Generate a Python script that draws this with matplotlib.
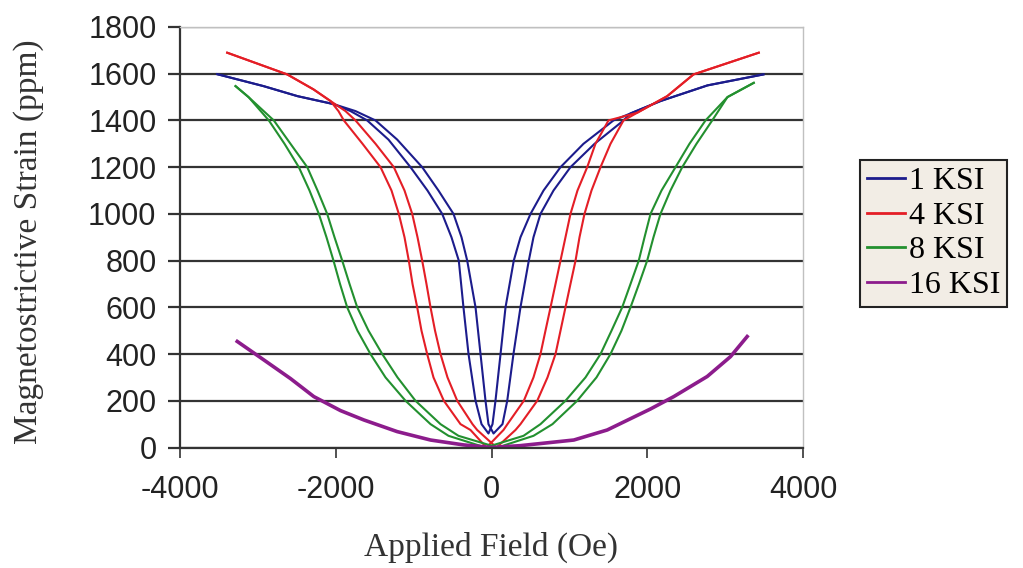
import matplotlib.pyplot as plt
import matplotlib as mpl
import numpy as np

mpl.rcParams["axes.unicode_minus"] = False

# strain (ppm) vs applied field (Oe); each stress level has two sweep branches
# 1 KSI
ksi1_a_field = [-3522, -2928, -2491, -2029, -1810, -1596, -1323, -1040, -822, -633, -514, -420, -360,
                -295, -205, -128, -39, 13, 51, 116, 180, 286, 372, 501, 668, 886, 1181, 1566,
                1785, 2170, 2773, 3492]
ksi1_a_strain = [1598, 1547, 1504, 1470, 1440, 1400, 1318, 1200, 1100, 1000, 900, 800, 600,
                 400, 200, 100, 60, 100, 200, 400, 600, 800, 900, 1000, 1100, 1200, 1300, 1400,
                 1430, 1483, 1550, 1597]
ksi1_b_field = [-3522, -2928, -2491, -2029, -1746, -1489, -1211, -890, -681, -488, -385, -312, -205,
                -141, -77, -39, 26, 141, 202, 282, 372, 479, 539, 629, 796, 1014, 1323, 1695,
                1785, 2170, 2773, 3492]
ksi1_b_strain = ksi1_a_strain

# 4 KSI
ksi4_a_field = [-3394, -2623, -2286, -2067, -1965, -1896, -1656, -1425, -1284, -1190, -1117, -1062,
                -1014, -954, -899, -826, -745, -612, -398, -270, -64, 154, 205, 415, 539, 629, 693,
                758, 822, 886, 950, 1014, 1104, 1229, 1335, 1502, 1871, 2256, 2594, 3432]
ksi4_a_strain = [1690, 1597, 1533, 1483, 1440, 1400, 1300, 1200, 1100, 1000, 900, 800,
                 700, 600, 500, 400, 300, 200, 100, 75, 0, 75, 100, 200, 300, 400, 500,
                 600, 700, 800, 900, 1000, 1100, 1200, 1300, 1400, 1433, 1504, 1597, 1690]
ksi4_b_field = [-3394, -2623, -2286, -2067, -1875, -1746, -1489, -1254, -1117, -1018, -950, -890,
                -835, -783, -725, -655, -565, -440, -244, -184, 64, 308, 372, 587, 719, 822, 886,
                950, 1014, 1079, 1130, 1194, 1284, 1400, 1528, 1695, 1871, 2256, 2594, 3432]
ksi4_b_strain = ksi4_a_strain

# 8 KSI
ksi8_a_field = [-3287, -3120, -2859, -2658, -2474, -2337, -2217, -2119, -2029, -1945, -1853, -1721,
                -1554, -1361, -1104, -783, -552, -77, 411, 629, 950, 1207, 1400, 1541, 1678, 1785,
                1891, 1965, 2042, 2183, 2363, 2542, 2748, 3030, 3368]
ksi8_a_strain = [1547, 1500, 1400, 1300, 1200, 1100, 1000, 900, 800, 700, 600, 500,
                 400, 300, 200, 100, 50, 0, 50, 100, 200, 300, 400, 500, 600, 700,
                 800, 900, 1000, 1100, 1200, 1300, 1400, 1500, 1561]
ksi8_b_field = [-3287, -3120, -2795, -2581, -2366, -2234, -2110, -2016, -1917, -1823, -1724, -1579,
                -1403, -1207, -976, -655, -424, 77, 539, 783, 1100, 1348, 1528, 1669, 1785, 1894,
                1999, 2080, 2170, 2298, 2449, 2632, 2834, 3030, 3368]
ksi8_b_strain = ksi8_a_strain

# 16 KSI (both branches lie on top of each other)
ksi16_field = [-3265, -2924, -2581, -2282, -1939, -1640, -1211, -783, -356, 0,
               372, 1057, 1486, 2042, 2341, 2770, 3069, 3283]
ksi16_strain = [454, 375, 295, 218, 158, 118, 68, 32, 11, 0,
                8, 32, 75, 165, 218, 304, 389, 475]

labels = ["1 KSI", "4 KSI", "8 KSI", "16 KSI"]
colors = ["#1c1c8c", "#e41e26", "#23902f", "#8c1c8c"]

fig = plt.figure(figsize=(10.23, 5.68), dpi=100)
ax = fig.add_axes([180 / 1023, 1 - 447.5 / 568, 623 / 1023, 420.5 / 568])

ax.plot(ksi1_a_field, ksi1_a_strain, color=colors[0], lw=1.5, label=labels[0])
ax.plot(ksi1_b_field, ksi1_b_strain, color=colors[0], lw=1.5)
ax.plot(ksi4_a_field, ksi4_a_strain, color=colors[1], lw=1.5, label=labels[1])
ax.plot(ksi4_b_field, ksi4_b_strain, color=colors[1], lw=1.5)
ax.plot(ksi8_a_field, ksi8_a_strain, color=colors[2], lw=1.5, label=labels[2])
ax.plot(ksi8_b_field, ksi8_b_strain, color=colors[2], lw=1.5)
ax.plot(ksi16_field, ksi16_strain, color=colors[3], lw=2.6, label=labels[3])

ax.set_xlim(-4000, 4000)
ax.set_ylim(0, 1800)
ax.set_xticks(np.arange(-4000, 4001, 2000))
ax.set_yticks(np.arange(0, 1801, 200))

ax.yaxis.grid(True, color="#333333", lw=1.6)
ax.set_axisbelow(True)
for side in ["top", "right"]:
    ax.spines[side].set_color("#c0c0c0")
    ax.spines[side].set_linewidth(1.0)
ax.spines["left"].set_color("#333333")
ax.spines["left"].set_linewidth(1.6)
ax.spines["bottom"].set_color("#333333")
ax.spines["bottom"].set_linewidth(1.6)

ax.tick_params(axis="y", length=9, width=1.6, color="#333333", pad=8)
ax.tick_params(axis="x", length=7, width=1.2, color="#333333", pad=13)
for t in ax.get_xticklabels() + ax.get_yticklabels():
    t.set_fontfamily("Liberation Sans")
    t.set_fontsize(22)
    t.set_color("#222222")

ax.set_ylabel("Magnetostrictive Strain (ppm)", family="Liberation Serif", fontsize=24,
              color="#333333")
ax.yaxis.set_label_coords(-0.218, 0.49)
ax.set_xlabel("Applied Field (Oe)", family="Liberation Serif", fontsize=24,
              color="#333333")
ax.xaxis.set_label_coords(0.5, -0.2)

leg = ax.legend(loc="upper left", bbox_to_anchor=(860 / 1023, 1 - 160 / 568),
                bbox_transform=fig.transFigure, prop={"family": "Liberation Serif", "size": 23},
                handlelength=1.2, handletextpad=0.1, labelspacing=0.16, borderpad=0.22,
                borderaxespad=0, fancybox=False, framealpha=1)
leg.get_frame().set_facecolor("#f2ede5")
leg.get_frame().set_edgecolor("#222222")
leg.get_frame().set_linewidth(1.5)
for line in leg.get_lines():
    line.set_linewidth(2.0)

fig.savefig("out.png", dpi=100)
